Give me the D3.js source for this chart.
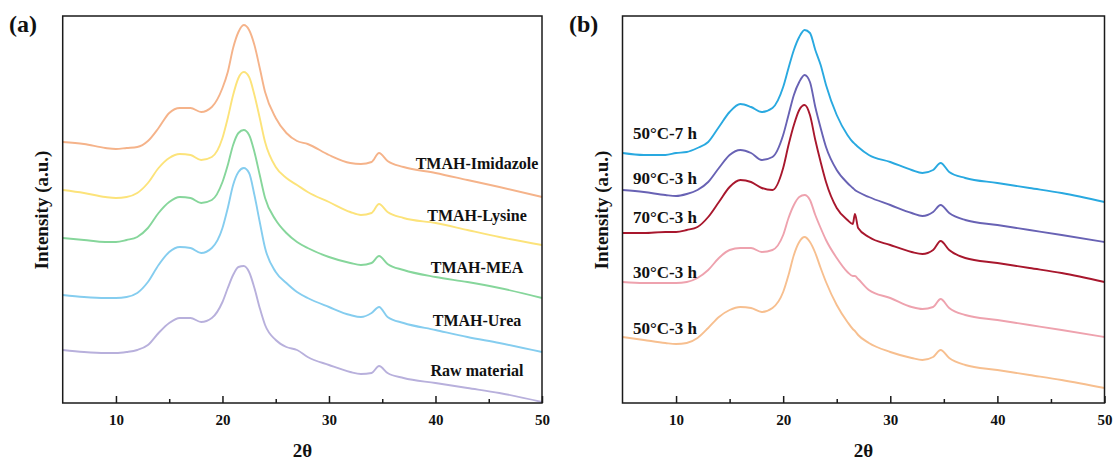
<!DOCTYPE html>
<html lang="en">
<head>
  <meta charset="UTF-8">
  <title>XRD patterns</title>
  <script src="https://cdn.jsdelivr.net/npm/d3@7"></script>
  <style>
    body { margin: 0; background: #fff; }
    text { font-family: "Liberation Serif", "Times New Roman", serif; font-weight: bold; fill: #111; }
  </style>
</head>
<body>
<script>
  // ---- data (2theta in degrees, intensity in a.u., already offset) ----
  const twoThetaA = [5, 7, 9, 10, 11, 12, 13, 14, 15, 16, 17, 18, 19, 20, 20.5, 21, 21.5, 22, 22.5, 23, 23.5, 24, 25, 26, 27, 28, 30, 32, 33, 34, 34.7, 35.5, 37, 40, 43, 46, 50];

  const imidazole = [261, 259, 255, 254, 255, 256, 262, 275, 290, 295, 295, 291, 296, 315, 331, 355, 371, 378, 373, 358, 335, 311, 285, 270, 262, 259, 248, 240, 239, 241, 250, 242, 236, 230, 223, 216, 206];
  const lysine    = [213, 210, 206, 205, 206, 210, 220, 235, 245, 249, 248, 243, 246, 265, 285, 308, 325, 331, 326, 308, 285, 261, 236, 225, 218, 211, 201, 191, 188, 190, 199, 191, 185, 180, 173, 166, 158];
  const mea       = [165, 163, 161, 161, 163, 166, 175, 190, 201, 206, 205, 200, 203, 221, 238, 258, 270, 273, 268, 251, 228, 205, 183, 170, 161, 155, 146, 140, 138, 140, 147, 139, 133, 126, 121, 115, 105];
  const urea      = [108, 106, 105, 105, 106, 110, 121, 138, 151, 156, 155, 150, 155, 175, 195, 218, 231, 235, 230, 208, 181, 155, 131, 120, 111, 105, 96, 88, 86, 90, 96, 86, 80, 73, 66, 60, 51];
  const rawMat    = [53, 51, 50, 50, 51, 53, 58, 70, 80, 85, 85, 81, 85, 101, 115, 128, 136, 137, 131, 115, 95, 78, 63, 56, 53, 46, 38, 31, 29, 30, 37, 30, 25, 20, 15, 10, 1];

  const namesA = ["TMAH-Imidazole", "TMAH-Lysine", "TMAH-MEA", "TMAH-Urea", "Raw material"];

  const twoThetaB = [5, 7, 9, 10, 11, 12, 13, 14, 15, 16, 17, 18, 19, 20, 20.5, 21, 21.5, 22, 22.5, 23, 23.5, 24, 25, 26, 26.5, 26.7, 27, 28, 30, 32, 33, 34, 34.7, 35.5, 37, 40, 43, 46, 50];

  const c50h7 = [250, 248, 248, 250, 251, 255, 261, 276, 291, 299, 296, 291, 295, 316, 335, 353, 366, 373, 370, 353, 338, 318, 288, 268, 261, 259, 256, 248, 241, 233, 230, 233, 240, 231, 225, 220, 215, 210, 201];
  const c90h3 = [213, 211, 208, 207, 209, 213, 221, 235, 248, 253, 250, 243, 246, 268, 288, 308, 321, 328, 321, 296, 275, 256, 233, 220, 215, 213, 211, 206, 198, 190, 187, 191, 198, 190, 183, 178, 173, 168, 161];
  const c70h3 = [170, 170, 171, 171, 173, 176, 186, 201, 216, 223, 221, 215, 213, 235, 258, 278, 293, 298, 288, 263, 241, 221, 195, 183, 179, 189, 175, 166, 158, 151, 149, 153, 162, 153, 145, 140, 135, 130, 121];
  const c30h3 = [121, 120, 120, 120, 121, 125, 133, 145, 153, 155, 155, 151, 153, 168, 185, 198, 206, 208, 203, 188, 175, 163, 145, 131, 127, 127, 124, 113, 105, 96, 94, 96, 104, 95, 88, 83, 78, 73, 66];
  const c50h3 = [66, 63, 60, 59, 60, 65, 75, 86, 93, 96, 95, 91, 95, 111, 128, 148, 161, 166, 161, 150, 135, 121, 98, 81, 74, 72, 68, 60, 51, 45, 43, 46, 53, 45, 38, 33, 28, 23, 15];

  const namesB = ["50\u00b0C-7 h", "90\u00b0C-3 h", "70\u00b0C-3 h", "30\u00b0C-3 h", "50\u00b0C-3 h"];

  const majorTicks = [10, 20, 30, 40, 50];
  const minorTicks = [15, 25, 35, 45];

  // ---- layout ----
  const W = 1117, H = 463;
  const svg = d3.select("body").append("svg")
    .attr("width", W)
    .attr("height", H);

  function drawPanel(cfg) {
    const x = d3.scaleLinear().domain([5, 50]).range([cfg.left, cfg.right]);
    const y = d3.scaleLinear().domain([0, 387]).range([403, 16]);
    const g = svg.append("g");

    const line = d3.line()
      .x(d => x(d[0]))
      .y(d => y(d[1]))
      .curve(d3.curveMonotoneX);

    cfg.series.forEach((s, i) => {
      g.append("path")
        .datum(cfg.xs.map((t, j) => [t, s[j]]))
        .attr("d", line)
        .attr("fill", "none")
        .attr("stroke", cfg.colors[i])
        .attr("stroke-width", 1.9)
        .attr("stroke-linejoin", "round");
    });

    // frame
    g.append("rect")
      .attr("x", cfg.left).attr("y", 16)
      .attr("width", cfg.right - cfg.left).attr("height", 387)
      .attr("fill", "none").attr("stroke", "#1a1a1a").attr("stroke-width", 1.5);

    // bottom axis, ticks pointing in
    const ax = g.append("g").attr("transform", "translate(0,403)")
      .call(d3.axisBottom(x).tickValues(majorTicks).tickSize(-7).tickFormat(d3.format("d")));
    ax.select(".domain").remove();
    ax.selectAll(".tick line").attr("stroke", "#1a1a1a").attr("stroke-width", 1.5);
    ax.selectAll(".tick text")
      .attr("y", 11).attr("dy", "0.71em")
      .style("font-family", '"Liberation Serif", serif')
      .style("font-weight", "bold")
      .style("font-size", "15px")
      .attr("fill", "#111");

    const mn = g.append("g").attr("transform", "translate(0,403)")
      .call(d3.axisBottom(x).tickValues(minorTicks).tickSize(-4).tickFormat(""));
    mn.select(".domain").remove();
    mn.selectAll(".tick line").attr("stroke", "#1a1a1a").attr("stroke-width", 1.5);

    // axis titles
    g.append("text")
      .attr("x", (cfg.left + cfg.right) / 2).attr("y", 457)
      .attr("text-anchor", "middle")
      .style("font-size", "19px")
      .text("2\u03b8");

    g.append("text")
      .attr("transform", `translate(${cfg.left - 15},210) rotate(-90)`)
      .attr("text-anchor", "middle")
      .style("font-size", "19px")
      .text("Intensity (a.u.)");

    g.append("text")
      .attr("x", cfg.tagX).attr("y", 32)
      .style("font-size", "24px")
      .text(cfg.tag);

    cfg.names.forEach((n, i) => {
      g.append("text")
        .attr("x", cfg.labelX).attr("y", cfg.labelY[i])
        .attr("text-anchor", cfg.anchor)
        .style("font-size", cfg.labelSize)
        .text(n);
    });
  }

  drawPanel({
    left: 62.7, right: 542, tag: "(a)", tagX: 9,
    xs: twoThetaA,
    series: [imidazole, lysine, mea, urea, rawMat],
    colors: ["#f5b38a", "#fce37a", "#86d69b", "#85cdef", "#b8b0dc"],
    names: namesA,
    labelX: 477, anchor: "middle", labelSize: "16px",
    labelY: [169, 221, 273, 326, 376]
  });

  drawPanel({
    left: 622.5, right: 1104.5, tag: "(b)", tagX: 569,
    xs: twoThetaB,
    series: [c50h7, c90h3, c70h3, c30h3, c50h3],
    colors: ["#29a9e0", "#6862b4", "#a8172d", "#eea2ae", "#f7bf8f"],
    names: namesB,
    labelX: 633, anchor: "start", labelSize: "17px",
    labelY: [139, 184, 223, 278, 334]
  });
</script>
</body>
</html>
